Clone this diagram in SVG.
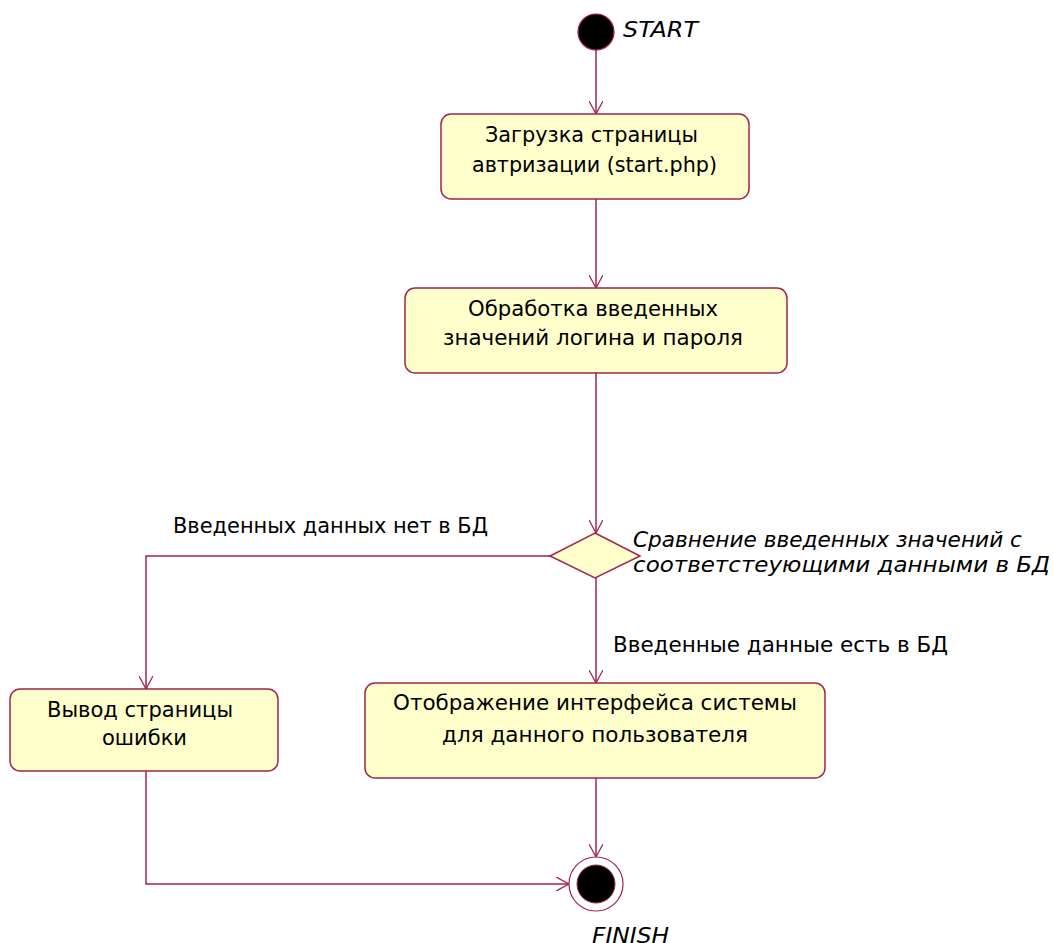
<svg xmlns="http://www.w3.org/2000/svg" width="1053" height="943" viewBox="0 0 1053 943">
  <defs>
    <style>
      .node { fill: #ffffcc; stroke: #a3234f; stroke-width: 1.5; }
      .edge { fill: none; stroke: #a3234f; stroke-width: 1.5; }
      .lbl { font-family: "DejaVu Sans", "Liberation Sans", sans-serif; font-size: 21px; fill: #000; }
      .ital { font-style: italic; }
    </style>
    <marker id="open" viewBox="0 0 14 14" refX="13" refY="7" markerWidth="14" markerHeight="14" markerUnits="userSpaceOnUse" orient="auto">
      <path d="M0,0 L13,7 L0,14" fill="none" stroke="#a3234f" stroke-width="1.3"/>
    </marker>
  </defs>
  <rect width="1053" height="943" fill="#ffffff"/>

  <g id="connectors">
    <path class="edge" d="M596,50 L596,114" marker-end="url(#open)"/>
    <path class="edge" d="M596,199 L596,288" marker-end="url(#open)"/>
    <path class="edge" d="M596,373 L596,533" marker-end="url(#open)"/>
    <path class="edge" d="M596,578 L596,683" marker-end="url(#open)"/>
    <path class="edge" d="M550,556 L146,556 L146,689" marker-end="url(#open)"/>
    <path class="edge" d="M596,778 L596,857" marker-end="url(#open)"/>
    <path class="edge" d="M146,771 L146,884 L569,884" marker-end="url(#open)"/>
    <text class="lbl" x="173" y="533" textLength="315" lengthAdjust="spacingAndGlyphs">Введенных данных нет в БД</text>
    <text class="lbl" x="613" y="652" textLength="335" lengthAdjust="spacingAndGlyphs">Введенные данные есть в БД</text>
  </g>

  <g id="start">
    <circle cx="596" cy="32" r="18" fill="#000" stroke="#a3234f" stroke-width="1.2"/>
    <text class="lbl ital" x="623" y="37" textLength="75" lengthAdjust="spacingAndGlyphs">START</text>
  </g>

  <g id="load-auth-page">
    <rect class="node" x="441" y="114" width="308" height="85" rx="10"/>
    <text class="lbl" x="485" y="142" textLength="213" lengthAdjust="spacingAndGlyphs">Загрузка страницы</text>
    <text class="lbl" x="472" y="172" textLength="245" lengthAdjust="spacingAndGlyphs">автризации (start.php)</text>
  </g>

  <g id="process-input">
    <rect class="node" x="405" y="288" width="382" height="85" rx="10"/>
    <text class="lbl" x="468" y="316" textLength="250" lengthAdjust="spacingAndGlyphs">Обработка введенных</text>
    <text class="lbl" x="443" y="345" textLength="300" lengthAdjust="spacingAndGlyphs">значений логина и пароля</text>
  </g>

  <g id="compare">
    <polygon class="node" points="595,533 640,556 595,578 550,556"/>
    <text class="lbl ital" x="633" y="547" textLength="389" lengthAdjust="spacingAndGlyphs">Сравнение введенных значений с</text>
    <text class="lbl ital" x="633" y="572" textLength="417" lengthAdjust="spacingAndGlyphs">соответстеующими данными в БД</text>
  </g>

  <g id="error-page">
    <rect class="node" x="10" y="689" width="268" height="82" rx="10"/>
    <text class="lbl" x="47" y="717" textLength="186" lengthAdjust="spacingAndGlyphs">Вывод страницы</text>
    <text class="lbl" x="102" y="745" textLength="85" lengthAdjust="spacingAndGlyphs">ошибки</text>
  </g>

  <g id="user-interface">
    <rect class="node" x="365" y="683" width="460" height="95" rx="10"/>
    <text class="lbl" x="393" y="710" textLength="404" lengthAdjust="spacingAndGlyphs">Отображение интерфейса системы</text>
    <text class="lbl" x="442" y="742" textLength="306" lengthAdjust="spacingAndGlyphs">для данного пользователя</text>
  </g>

  <g id="finish">
    <circle cx="596" cy="884" r="27" fill="#ffffff" stroke="#a3234f" stroke-width="1.2"/>
    <circle cx="596" cy="884" r="19" fill="#000" stroke="#a3234f" stroke-width="1"/>
    <text class="lbl ital" x="592" y="943" textLength="77" lengthAdjust="spacingAndGlyphs">FINISH</text>
  </g>
</svg>
